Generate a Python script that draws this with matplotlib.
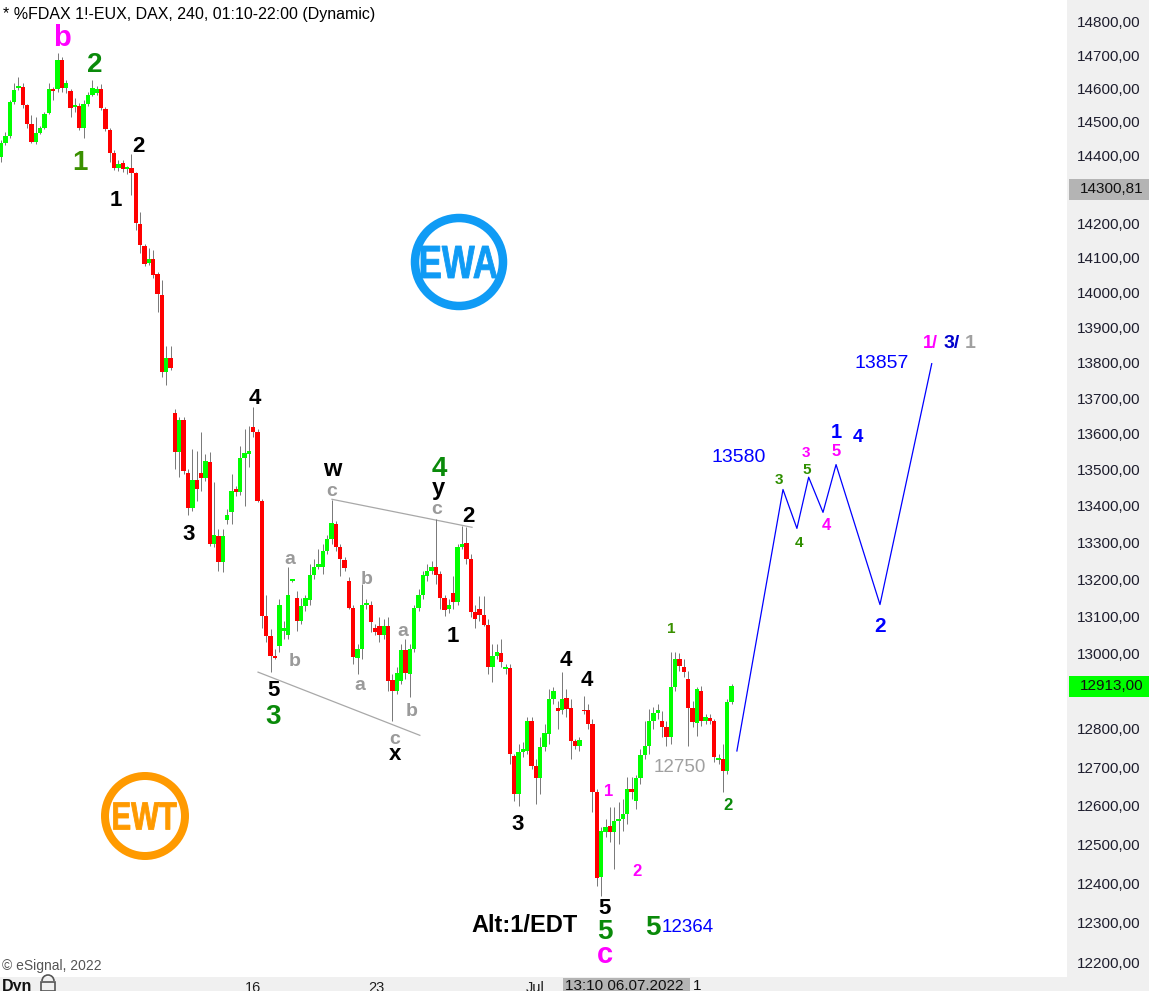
import numpy as np
import matplotlib
matplotlib.use('Agg')
import matplotlib.pyplot as plt
import matplotlib.ticker as mticker
import matplotlib.transforms as mtrans
from matplotlib.patches import Rectangle, Ellipse, PathPatch, Arc
from matplotlib.textpath import TextPath
from matplotlib.font_manager import FontProperties

plt.rcParams['font.family'] = ['Liberation Sans', 'DejaVu Sans']

# ---------------- data (4h candles, FDAX) ----------------
opens = [14395,14437,14458,14559,14601,14604,14550,14493,14440,14466,14481,14526,14598,14598,14685,14601,14592,14544,14547,14481,
         14553,14580,14586,14598,14538,14475,14407,14363,14378,14360,14363,14348,14199,14134,14086,14098,14054,13993,13772,13814,
         13657,13548,13637,13492,13395,13470,13492,13476,13520,13294,13316,13245,13360,13382,13445,13437,13531,13542,13618,13606,
         13412,13099,13046,12992,13019,13061,13048,13194,13150,13088,13126,13142,13210,13234,13234,13275,13308,13349,13286,13251,
         13194,13123,12987,13013,13129,13131,13067,13072,13048,13072,12928,12900,12926,13008,12945,13013,13123,13156,13207,13221,
         13234,13213,13150,13118,13161,13137,13286,13297,13254,13110,13118,13102,13075,12963,12992,13000,12958,12960,12729,12630,
         12739,12742,12822,12703,12672,12752,12786,12878,12854,12849,12881,12854,12768,12755,12849,12849,12812,12635,12416,12532,
         12547,12532,12560,12565,12578,12643,12612,12672,12731,12755,12822,12843,12820,12804,12778,12910,12984,12963,12931,12854,
         12815,12900,12822,12828,12820,12718,12721,12690,12870]
highs = [14446,14470,14565,14616,14634,14616,14553,14520,14514,14487,14529,14616,14604,14706,14694,14625,14598,14571,14556,14565,
         14589,14625,14607,14613,14544,14481,14416,14387,14387,14369,14404,14351,14234,14140,14129,14123,14060,14037,13846,13846,
         13668,13646,13646,13501,13556,13553,13604,13542,13548,13465,13335,13335,13390,13487,13456,13565,13612,13621,13674,13612,
         13418,13158,13064,13011,13145,13086,13232,13199,13167,13150,13156,13240,13254,13281,13294,13321,13415,13357,13294,13259,
         13205,13131,13024,13186,13145,13140,13078,13097,13091,13097,12945,12963,13024,13038,13024,13131,13172,13221,13240,13248,
         13363,13221,13158,13145,13207,13294,13344,13341,13267,13131,13153,13153,13091,13024,13024,13038,12971,12971,12734,12760,
         12765,12830,12830,12721,12778,12812,12905,12910,12873,12950,12905,12878,12773,12778,12886,12865,12825,12643,12545,12565,
         12596,12596,12609,12617,12674,12674,12679,12747,12820,12852,12857,12865,12846,12820,13003,13003,13000,12984,12953,12873,
         12910,12913,12838,12838,12825,12734,12760,12878,12918]
lows = [14381,14431,14452,14553,14595,14541,14481,14437,14434,14463,14478,14523,14565,14589,14589,14586,14514,14529,14475,14452,
        14547,14577,14580,14535,14472,14381,14357,14354,14351,14346,14284,14181,14114,14077,14080,14043,13945,13758,13738,13780,
        13501,13479,13487,13376,13385,13412,13440,13468,13289,13286,13221,13218,13349,13349,13426,13431,13399,13506,13590,13410,
        13069,13030,12950,12984,13005,13038,13038,13191,13059,13078,13113,13131,13199,13226,13213,13267,13294,13275,13207,13221,
        13118,12971,12945,12984,13118,13056,13048,13030,13038,12900,12820,12892,12918,12931,12884,13005,13113,13145,13194,13213,
        13186,13118,13099,13107,13118,13131,13281,13240,13097,13069,13086,13072,12945,12923,12984,12963,12945,12708,12612,12599,
        12726,12734,12695,12604,12630,12742,12760,12865,12799,12838,12830,12721,12747,12742,12838,12799,12583,12393,12368,12519,
        12506,12437,12501,12534,12552,12617,12591,12656,12721,12734,12799,12825,12778,12755,12760,12900,12953,12937,12755,12804,
        12781,12807,12812,12812,12713,12708,12635,12682,12865]
closes = [14437,14458,14559,14595,14607,14550,14493,14440,14466,14481,14523,14598,14592,14685,14601,14616,14541,14550,14481,14553,
          14580,14601,14598,14541,14478,14407,14363,14375,14360,14363,14348,14202,14137,14083,14098,14051,13996,13772,13814,13786,
          13548,13637,13495,13395,13470,13445,13476,13523,13294,13319,13245,13316,13376,13440,13437,13531,13545,13551,13606,13412,
          13099,13046,12992,12987,13131,13069,13158,13196,13088,13126,13148,13210,13234,13240,13275,13308,13352,13286,13254,13229,
          13123,12989,13013,13131,13134,13083,13056,13048,13072,12926,12900,12947,13008,12947,13013,13123,13156,13210,13221,13234,
          13210,13150,13115,13131,13137,13286,13294,13254,13110,13091,13102,13075,12963,12992,13003,12976,12960,12734,12630,12739,
          12747,12822,12703,12672,12752,12789,12878,12900,12846,12878,12852,12768,12755,12770,12846,12812,12635,12414,12534,12545,
          12532,12560,12565,12578,12643,12635,12672,12731,12755,12822,12843,12849,12804,12778,12910,12984,12966,12950,12854,12817,
          12905,12822,12830,12822,12726,12724,12690,12870,12913]

# projected wave path (bar index, price)
proj_x = [169.2, 179.8, 183.0, 185.7, 189.0, 192.0, 202.1, 214.0]
proj_y = [12742, 13445, 13338, 13479, 13382, 13514, 13131, 13797]

# triangle boundary lines
upper_line_x = [76.1, 108.3]
upper_line_y = [13418, 13341]
lower_line_x = [59.1, 96.3]
lower_line_y = [12950, 12783]

ytick_vals = [v for v in range(12200, 14801, 100) if v not in (14300, 12900)]
marker_price = 14300.81
last_price = 12913.00
xtick_pos = [57.9, 86.2, 122.8]
xtick_labels = ['16', '23', 'Jul']

# ---------------- figure ----------------
W, H = 1149, 991
AX_W, AX_H = 1067, 977
fig = plt.figure(figsize=(W / 100, H / 100), dpi=100, facecolor='#f0f0f0')
ax = fig.add_axes([0, (H - AX_H) / H, AX_W / W, AX_H / H])
ax.set_facecolor('white')
ax.set_yscale('log')
ax.set_xlim(-0.23, 245.1)
ax.set_ylim(12164, 14867)
for s in ax.spines.values():
    s.set_visible(False)

o = np.array(opens, float); h = np.array(highs, float)
l = np.array(lows, float); c = np.array(closes, float)
idx = np.arange(len(o))
up = c >= o
ax.vlines(idx, l, h, color='#777777', lw=0.7, zorder=2)
lo = np.minimum(o, c)
hi = np.maximum(np.maximum(o, c), lo + 5)
ax.bar(idx, hi - lo, bottom=lo, width=1.0, color=np.where(up, '#00ff00', '#ff0000'),
       edgecolor='none', linewidth=0, zorder=3)

ax.plot(proj_x, proj_y, color='#0000ff', lw=0.9, zorder=4)
ax.plot(upper_line_x, upper_line_y, color='#a8a8a8', lw=0.9, zorder=1)
ax.plot(lower_line_x, lower_line_y, color='#a8a8a8', lw=0.9, zorder=1)

# axes ticks
ax.yaxis.tick_right()
ax.set_yticks(ytick_vals)
ax.set_yticklabels([f"{v:.2f}".replace('.', ',') for v in ytick_vals])
ax.yaxis.set_minor_locator(mticker.NullLocator())
ax.yaxis.set_minor_formatter(mticker.NullFormatter())
ax.tick_params(axis='y', length=0, pad=7, labelsize=11, labelcolor='#1e1e2e')
ax.set_xticks(xtick_pos)
ax.set_xticklabels(xtick_labels)
ax.tick_params(axis='x', length=0, pad=3, labelsize=10.5, labelcolor='#1e1e1e')

# price highlight boxes
bt = mtrans.blended_transform_factory(fig.transFigure, ax.transData)
for price, fc in [(marker_price, '#b4b4b4'), (last_price, '#00ff00')]:
    k = np.exp(10.5 / 4870)
    fig.add_artist(Rectangle((1069 / W, price / k), 80 / W, price * k - price / k,
                             transform=bt, fc=fc, ec='none', zorder=5))
    fig.text(1080 / W, price, f"{price:.2f}".replace('.', ','), transform=bt,
             ha='left', va='center', fontsize=11, color='#111111', zorder=6)


def P(x, y):
    return x / AX_W, 1 - y / AX_H


def lab(txt, x, y, color, size, weight='bold', ha='center'):
    ax.text(*P(x, y), txt, transform=ax.transAxes, color=color, fontsize=size,
            fontweight=weight, ha=ha, va='center', zorder=7)


MAG = '#ff00ff'; GRN = '#0a8a0a'; OLV = '#3a9000'; BLK = '#000000'
GRY = '#9a9a9a'; BLU = '#0000ff'; LGR = '#2f8f00'

labels = [
    ('b', 62, 38, MAG, 21), ('2', 95, 65, GRN, 20), ('1', 80, 163, OLV, 20),
    ('2', 138, 147, BLK, 16), ('1', 116, 200, BLK, 16), ('4', 255, 398, BLK, 16),
    ('3', 189, 535, BLK, 16), ('w', 332, 470, BLK, 17), ('c', 332, 492, GRY, 14),
    ('4', 439, 469, GRN, 20), ('y', 438, 489, BLK, 17), ('c', 437, 510, GRY, 14),
    ('2', 468, 517, BLK, 16), ('a', 290, 559, GRY, 14), ('b', 367, 580, GRY, 14),
    ('a', 403, 632, GRY, 14), ('1', 453, 636, BLK, 16), ('b', 295, 661, GRY, 14),
    ('a', 360, 686, GRY, 14), ('b', 412, 711, GRY, 14), ('5', 274, 690, BLK, 16),
    ('3', 273, 717, GRN, 20), ('c', 395, 739, GRY, 14), ('x', 395, 755, BLK, 16),
    ('4', 566, 660, BLK, 16), ('4', 587, 681, BLK, 16), ('3', 518, 824, BLK, 16),
    ('1', 609, 791, MAG, 12), ('2', 637, 871, MAG, 12), ('1', 671, 629, OLV, 11),
    ('2', 728, 805, GRN, 12), ('5', 605, 908, BLK, 16), ('5', 605, 932, GRN, 20),
    ('c', 605, 955, MAG, 21), ('Alt:1/EDT', 525, 925, BLK, 17), ('5', 653, 928, GRN, 20),
    ('3', 779, 480, LGR, 11), ('4', 799, 543, LGR, 11), ('3', 806, 453, MAG, 11),
    ('5', 807, 470, LGR, 11), ('4', 826, 526, MAG, 12), ('1', 836, 432, BLU, 14.5),
    ('5', 836, 451, MAG, 12), ('4', 858, 437, BLU, 13.5), ('2', 880, 627, BLU, 15),
]
for t, x, y, col, sz in labels:
    lab(t, x, y, col, sz)

lab('12750', 680, 767, '#a0a0a0', 13.5, weight='normal')
lab('12364', 688, 927, BLU, 13.5, weight='normal')
lab('13580', 739, 457, BLU, 14, weight='normal')
lab('13857', 882, 363, BLU, 14, weight='normal')
lab('1/', 923, 343, MAG, 13, ha='left')
lab('3/', 944, 343, '#0000cc', 14, ha='left')
lab('1', 965, 343, '#a0a0a0', 14, ha='left')

# title & copyright
ax.text(*P(3, 15), '* %FDAX 1!-EUX, DAX, 240, 01:10-22:00 (Dynamic)', transform=ax.transAxes,
        fontsize=11.5, ha='left', va='center', color='#000000')
ax.text(*P(2, 966), '\u00a9 eSignal, 2022', transform=ax.transAxes,
        fontsize=10, ha='left', va='center', color='#555555')


# logos
def logo(cx, cy, r, ring, text, tw, th, color):
    ax.add_patch(Ellipse(P(cx, cy), 2 * r / AX_W, 2 * r / AX_H, transform=ax.transAxes,
                         fill=False, ec=color, lw=ring * 0.72, zorder=4))
    tp = TextPath((0, 0), text, size=1, prop=FontProperties(family='Liberation Sans', weight='bold'))
    ext = tp.get_extents()
    tr = (mtrans.Affine2D().translate(-ext.x0, -ext.y0)
          .scale(tw / ext.width, th / ext.height)
          .translate(cx - tw / 2, (H - cy) - th / 2).scale(1 / 100) + fig.dpi_scale_trans)
    fig.add_artist(PathPatch(tp, transform=tr, fc=color, ec=color, lw=0.6, zorder=4))


logo(459, 262, 44, 8.5, 'EWA', 76, 32, '#0f9bf5')
logo(145, 816, 40, 8, 'EWT', 63, 27, '#ff9a00')

# bottom strip
fig.text(2 / W, 1 - 979 / H, 'Dyn', fontsize=11.5, fontweight='bold', ha='left', va='top', color='#111111')
px2fig = mtrans.Affine2D().scale(1 / W, 1 / H) + fig.transFigure
fig.add_artist(Arc((48, 10), 12, 12, theta1=0, theta2=180, transform=px2fig, color='#555555', lw=1.2))
fig.add_artist(Rectangle((41, 0), 14, 9, transform=px2fig, fc='none', ec='#555555', lw=1.2))
fig.add_artist(Rectangle((563 / W, 0), 127 / W, 13 / H, transform=fig.transFigure, fc='#b4b4b4', ec='none'))
fig.text(565 / W, 1 - 979 / H, '13:10 06.07.2022', fontsize=11, ha='left', va='top', color='#111111')
fig.text(693 / W, 1 - 979 / H, '1', fontsize=11, ha='left', va='top', color='#111111')

fig.savefig('out.png', dpi=100, facecolor=fig.get_facecolor())
